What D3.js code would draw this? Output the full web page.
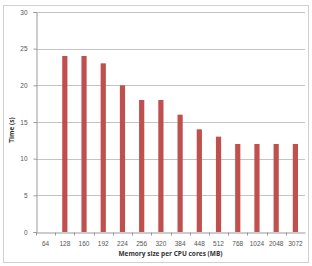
<!DOCTYPE html>
<html>
<head>
<meta charset="utf-8">
<script src="https://cdn.jsdelivr.net/npm/d3@7"></script>
<style>
  body { margin: 0; background: #fff; }
  svg { display: block; font-family: "Open Sans", "Liberation Sans", sans-serif; }
</style>
</head>
<body>
<div id="chart"></div>
<script>
// memory sizes (MB) and the measured run time
const memorySizes = ["64", "128", "160", "192", "224", "256", "320", "384", "448", "512", "768", "1024", "2048", "3072"];
const timeValues = [0, 24, 24, 23, 20, 18, 18, 16, 14, 13, 12, 12, 12, 12];
const yTicks = [0, 5, 10, 15, 20, 25, 30];

const width = 312, height = 266;
const margin = { top: 12, right: 7, bottom: 34, left: 36 };

const svg = d3.select("#chart").append("svg")
    .attr("width", width)
    .attr("height", height);

// outer frame
svg.append("rect")
    .attr("x", 3.5).attr("y", 5.5)
    .attr("width", 305).attr("height", 257)
    .attr("fill", "none")
    .attr("stroke", "#d0d0d0");

const x = d3.scaleBand()
    .domain(memorySizes)
    .range([margin.left, width - margin.right]);

const y = d3.scaleLinear()
    .domain([0, 30])
    .range([height - margin.bottom, margin.top]);

// gridlines
svg.append("g")
    .selectAll("line")
    .data(yTicks.filter(d => d > 0))
    .join("line")
    .attr("x1", margin.left)
    .attr("x2", width - margin.right)
    .attr("y1", d => Math.round(y(d)) + 0.5)
    .attr("y2", d => Math.round(y(d)) + 0.5)
    .attr("stroke", "#c4c4c4");

// bars
svg.append("g")
    .selectAll("rect")
    .data(memorySizes.map((m, i) => ({ m: m, v: timeValues[i] })))
    .join("rect")
    .attr("fill", "#c0504d")
    .attr("x", d => x(d.m) + x.bandwidth() / 2 - 2.6)
    .attr("width", 5.2)
    .attr("y", d => y(d.v))
    .attr("height", d => y(0) - y(d.v));

// y axis
const yAxis = svg.append("g")
    .attr("transform", `translate(${margin.left + 0.5},0)`)
    .call(d3.axisLeft(y).tickValues(yTicks).tickSize(3).tickPadding(6));
yAxis.select(".domain").attr("stroke", "#999");
yAxis.selectAll(".tick line").attr("stroke", "#999");
yAxis.selectAll(".tick text")
    .attr("fill", "#555")
    .attr("font-size", 6.5);

// x axis, ticks sit between the categories
const xAxis = svg.append("g")
    .attr("transform", `translate(0,${Math.round(y(0)) + 0.5})`)
    .call(d3.axisBottom(x).tickSize(0).tickPadding(9));
xAxis.select(".domain").attr("stroke", "#999");
xAxis.selectAll(".tick text")
    .attr("fill", "#555")
    .attr("font-size", 6.5);
xAxis.append("g")
    .selectAll("line")
    .data(memorySizes)
    .join("line")
    .attr("x1", d => Math.round(x(d)) + 0.5)
    .attr("x2", d => Math.round(x(d)) + 0.5)
    .attr("y1", 0).attr("y2", 3)
    .attr("stroke", "#999");

// axis titles
svg.append("text")
    .attr("x", (margin.left + width - margin.right) / 2)
    .attr("y", 256)
    .attr("text-anchor", "middle")
    .attr("font-size", 6.5)
    .attr("font-weight", "bold")
    .attr("fill", "#333")
    .text("Memory size per CPU cores (MB)");

svg.append("text")
    .attr("transform", "translate(14,130) rotate(-90)")
    .attr("text-anchor", "middle")
    .attr("font-size", 6.5)
    .attr("font-weight", "bold")
    .attr("fill", "#333")
    .text("Time (s)");
</script>
</body>
</html>
